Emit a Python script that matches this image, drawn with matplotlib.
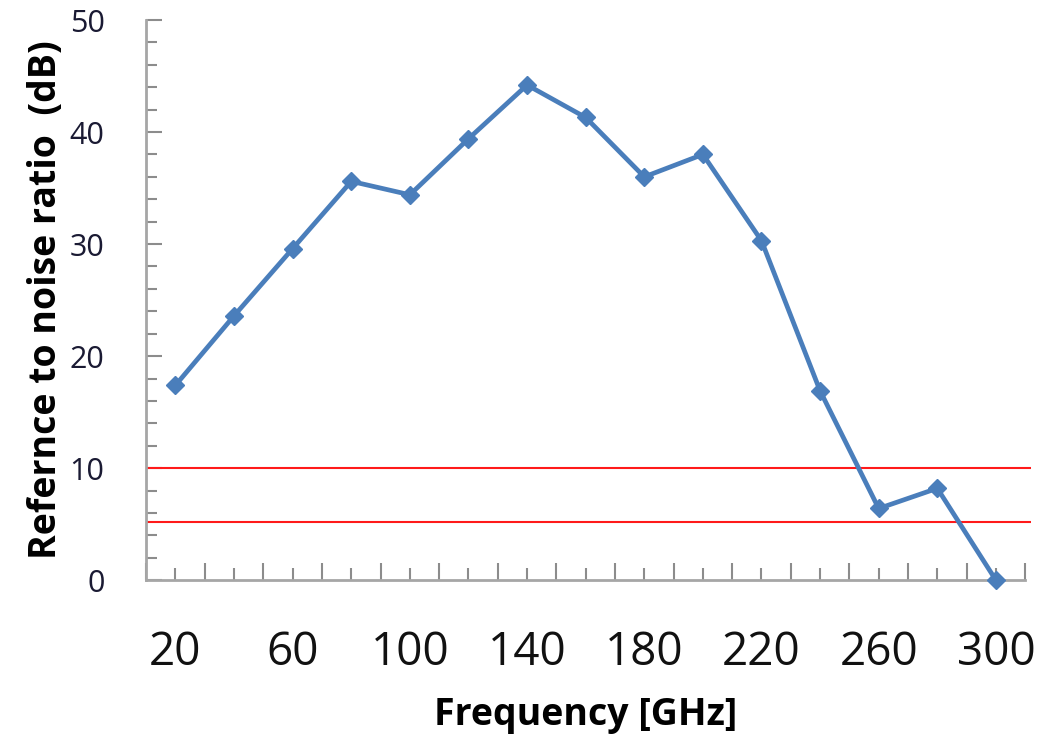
import matplotlib
matplotlib.use("Agg")
import matplotlib.pyplot as plt
from matplotlib.ticker import MultipleLocator, FixedLocator

freq = [20, 40, 60, 80, 100, 120, 140, 160, 180, 200, 220, 240, 260, 280, 300]
snr = [17.4, 23.6, 29.6, 35.6, 34.4, 39.4, 44.2, 41.3, 36.0, 38.0, 30.3, 16.9, 6.4, 8.2, 0.0]
thresholds = [10.0, 5.2]
xtick_labels = ["20", "", "60", "", "100", "", "140", "", "180", "", "220", "", "260", "", "300"]

plt.rcParams['font.family'] = ['Open Sans', 'DejaVu Sans']

fig = plt.figure(figsize=(10.44, 7.41), dpi=100)
ax = fig.add_axes([0.140, 0.217, 0.842, 0.756])

for t in thresholds:
    ax.hlines(t, 10, 312, colors='#ff1a1a', linewidth=1.5, clip_on=False, zorder=2)

ax.plot(freq, snr, color='#4a7ebb', linewidth=3.4, marker='D', markersize=9.5,
        markeredgecolor='#4a7ebb', zorder=3, clip_on=False)

ax.set_xlim(10, 310)
ax.set_ylim(0, 50)

for s in ['top', 'right']:
    ax.spines[s].set_visible(False)
for s in ['left', 'bottom']:
    ax.spines[s].set_color('#a6a6a6')
    ax.spines[s].set_linewidth(2)

ax.xaxis.set_major_locator(FixedLocator(freq))
ax.set_xticklabels(xtick_labels)
ax.xaxis.set_minor_locator(FixedLocator(list(range(10, 311, 20))))
ax.tick_params(axis='x', which='major', direction='in', length=9, width=1.5,
               color='#8c8c8c', labelsize=33, pad=36, labelcolor='#111111')
ax.tick_params(axis='x', which='minor', direction='in', length=12, width=1.5,
               color='#8c8c8c')

ax.yaxis.set_major_locator(MultipleLocator(10))
ax.yaxis.set_minor_locator(MultipleLocator(2))
ax.tick_params(axis='y', which='major', direction='in', length=11.5, width=1.5,
               color='#8c8c8c', labelsize=22, pad=30, labelcolor='#1a1a33')
ax.tick_params(axis='y', which='minor', direction='in', length=8, width=1.5,
               color='#8c8c8c')

ax.set_xlabel('Frequency [GHz]', fontsize=27, fontweight='bold', labelpad=14)
ax.set_ylabel('Refernce to noise ratio  (dB)', fontsize=27, fontweight='bold', labelpad=3)

fig.savefig('out.png', dpi=100)
